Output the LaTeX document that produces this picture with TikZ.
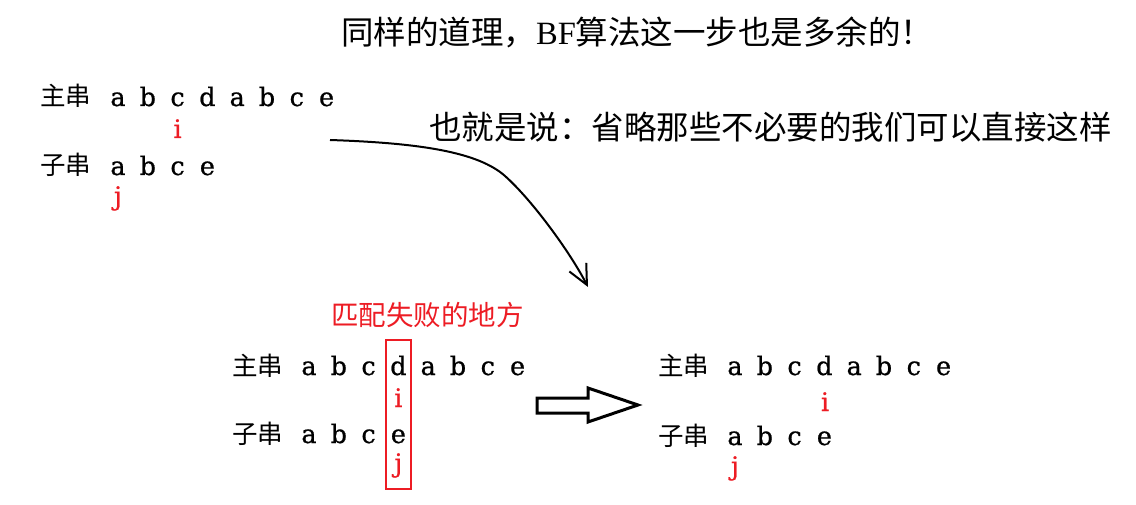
\documentclass[tikz,border=0pt]{standalone}
\usepackage{fontspec}
\setmainfont{DejaVu Serif}
\newfontfamily\letfont[FakeBold=0.8]{DejaVu Serif}
\newfontfamily\cjk{Noto Sans CJK SC}
\newfontfamily\bfser{Liberation Serif}
\usetikzlibrary{arrows.meta}
\definecolor{myred}{RGB}{237,28,36}
\tikzset{
  lat/.style={anchor=base, inner sep=0pt, font=\letfont\fontsize{25.5}{30}\selectfont},
  han/.style={anchor=base west, inner sep=0pt, font=\cjk\fontsize{25.5}{30}\selectfont},
  redl/.style={lat, text=myred},
  big/.style={anchor=base west, inner sep=0pt, font=\cjk\fontsize{32.5}{38}\selectfont},
  redhan/.style={anchor=base west, inner sep=0pt, text=myred, font=\cjk\fontsize{27.5}{32}\selectfont},
  curve/.style={line width=2pt, -{Straight Barb[length=20pt,width=19pt,line width=2pt]}},
  failbox/.style={draw=myred, line width=2.5pt, minimum width=25pt, minimum height=149pt, inner sep=0pt},
  fatarrow/.style={draw=black, line width=3pt, line join=miter, fill=white}
}
\begin{document}
\begin{tikzpicture}[x=1pt,y=-1pt]
\useasboundingbox (0,0) rectangle (1136,505);
\fill[white] (0,0) rectangle (1136,505);

% headings
\node[big] (title) at (341,45) {同样的道理，{\bfser BF}算法这一步也是多余的！};
\node[big] (say) at (429,140) {也就是说：省略那些不必要的我们可以直接这样};

% upper-left block
\node[han] (ulm) at (40,106) {主串};
\foreach \c [count=\k] in {a,b,c,d,a,b,c,e}
  \node[lat] (ulm\k) at ({88.2+29.8*\k},106) {\c};
\node[redl] (uli) at (177.6,138) {i};
\node[han] (uls) at (40,175) {子串};
\foreach \c [count=\k] in {a,b,c,e}
  \node[lat] (uls\k) at ({88.2+29.8*\k},175) {\c};
\node[redl] (ulj) at (118,205) {j};

% curved arrow
\coordinate (cs) at (330,140);
\coordinate (ce) at (588,287);
\draw[curve] (cs) .. controls (420,143) and (478,152) .. (505,176)
  .. controls (532,200) and (570,252) .. (ce);

% bottom-left block
\node[redhan] (fail) at (331,326) {匹配失败的地方};
\node[han] (blm) at (232,375) {主串};
\foreach \c [count=\k] in {a,b,c,d,a,b,c,e}
  \node[lat] (blm\k) at ({279.2+29.8*\k},375) {\c};
\node[redl] (bli) at (398.4,407) {i};
\node[han] (bls) at (232,443) {子串};
\foreach \c [count=\k] in {a,b,c,e}
  \node[lat] (bls\k) at ({279.2+29.8*\k},443) {\c};
\node[redl] (blj) at (398.4,472) {j};
\node[failbox] (box) at (398.5,414.5) {};

% fat arrow
\draw[fatarrow] (537,398) -- (588,398) -- (588,388) -- (638,405) -- (588,422) -- (588,413) -- (537,413) -- cycle;

% right block
\node[han] (rm) at (658,375) {主串};
\foreach \c [count=\k] in {a,b,c,d,a,b,c,e}
  \node[lat] (rm\k) at ({705.2+29.8*\k},375) {\c};
\node[redl] (ri) at (825,411) {i};
\node[han] (rs) at (658,445) {子串};
\foreach \c [count=\k] in {a,b,c,e}
  \node[lat] (rs\k) at ({705.2+29.8*\k},445) {\c};
\node[redl] (rj) at (735,475) {j};
\end{tikzpicture}
\end{document}
